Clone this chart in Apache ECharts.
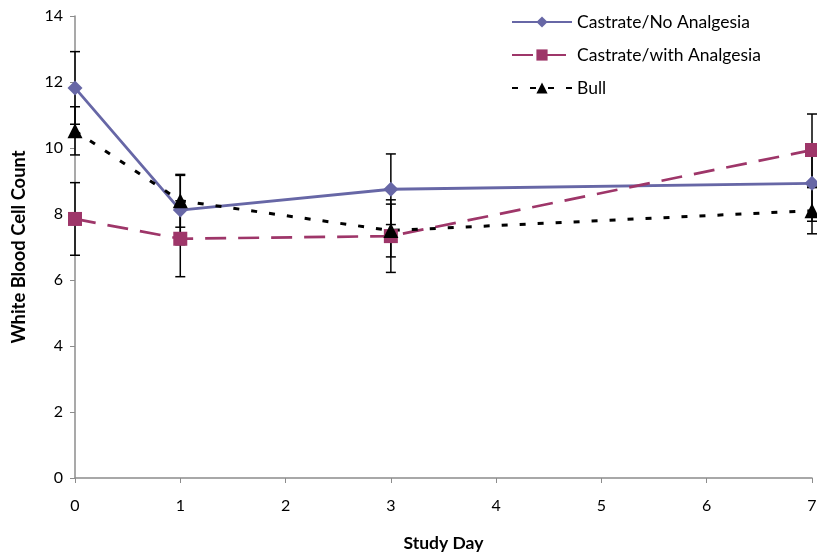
<!DOCTYPE html>
<html>
<head>
<meta charset="utf-8">
<script src="https://cdn.jsdelivr.net/npm/echarts@6/dist/echarts.min.js"></script>
<style>
  html, body { margin: 0; padding: 0; background: #fff; }
  #chart { width: 817px; height: 555px; }
</style>
</head>
<body>
<div id="chart"></div>
<script>
// Study days sampled
const days = [0, 1, 3, 7];

// Mean white blood cell counts per group
const noAnalgesia = [11.82, 8.12, 8.75, 8.93];
const withAnalgesia = [7.85, 7.25, 7.33, 9.94];
const bull = [10.52, 8.40, 7.50, 8.10];

// Error bar half-widths per group
const noAnalgesiaErr = [1.10, 1.05, 1.07, 1.15];
const withAnalgesiaErr = [1.10, 1.15, 1.10, 1.09];
const bullErr = [0.73, 0.80, 0.80, 0.70];

// Axis ticks
const xTicks = [0, 1, 2, 3, 4, 5, 6, 7];
const yTicks = [0, 2, 4, 6, 8, 10, 12, 14];

const FONT = 'Lato';
const C_NO = '#6767A6';
const C_WITH = '#9E3669';
const C_BULL = '#000000';

function points(vals) {
  return days.map((d, i) => [d, vals[i]]);
}
function errData(vals, errs) {
  return days.map((d, i) => [d, vals[i] - errs[i], vals[i] + errs[i]]);
}
function renderErr(params, api) {
  const x = api.value(0);
  const lo = api.coord([x, api.value(1)]);
  const hi = api.coord([x, api.value(2)]);
  const half = 5;
  const style = { stroke: '#000', lineWidth: 1.5 };
  return {
    type: 'group',
    children: [
      { type: 'line', shape: { x1: lo[0], y1: lo[1], x2: hi[0], y2: hi[1] }, style },
      { type: 'line', shape: { x1: lo[0] - half, y1: lo[1], x2: lo[0] + half, y2: lo[1] }, style },
      { type: 'line', shape: { x1: hi[0] - half, y1: hi[1], x2: hi[0] + half, y2: hi[1] }, style }
    ]
  };
}
function errSeries(vals, errs) {
  return {
    type: 'custom',
    renderItem: renderErr,
    data: errData(vals, errs),
    encode: { x: 0, y: [1, 2] },
    clip: false,
    silent: true,
    z: 1
  };
}

const chart = echarts.init(document.getElementById('chart'), null, { renderer: 'canvas' });
chart.setOption({
  animation: false,
  backgroundColor: '#ffffff',
  grid: { left: 75, right: 5, top: 16, bottom: 77, outerBoundsMode: 'none' },
  legend: {
    orient: 'vertical',
    left: 506,
    top: 8,
    itemWidth: 60,
    itemHeight: 14,
    itemGap: 15,
    data: ['Castrate/No Analgesia', 'Castrate/with Analgesia', 'Bull'],
    textStyle: { fontFamily: FONT, fontSize: 17.5, color: '#000' }
  },
  xAxis: {
    type: 'value',
    min: xTicks[0],
    max: xTicks[xTicks.length - 1],
    interval: 1,
    name: 'Study Day',
    nameLocation: 'middle',
    nameGap: 56,
    nameTextStyle: { fontFamily: FONT, fontSize: 17.5, fontWeight: 'bold', color: '#000' },
    axisLine: { lineStyle: { color: '#8C8C8C', width: 1.5 } },
    axisTick: { show: true, length: 5, lineStyle: { color: '#8C8C8C' } },
    axisLabel: { fontFamily: FONT, fontSize: 16, color: '#000', margin: 20 },
    splitLine: { show: false }
  },
  yAxis: {
    type: 'value',
    min: yTicks[0],
    max: yTicks[yTicks.length - 1],
    interval: 2,
    name: 'White Blood Cell Count',
    nameLocation: 'middle',
    nameGap: 47,
    nameTextStyle: { fontFamily: FONT, fontSize: 18.4, fontWeight: 'bold', color: '#000' },
    axisLine: { show: true, lineStyle: { color: '#8C8C8C', width: 1.5 } },
    axisTick: { show: true, length: 5, lineStyle: { color: '#8C8C8C' } },
    axisLabel: { fontFamily: FONT, fontSize: 16, color: '#000', margin: 12 },
    splitLine: { show: false }
  },
  series: [
    errSeries(noAnalgesia, noAnalgesiaErr),
    errSeries(withAnalgesia, withAnalgesiaErr),
    errSeries(bull, bullErr),
    {
      name: 'Castrate/No Analgesia',
      type: 'line',
      data: points(noAnalgesia),
      symbol: 'diamond',
      symbolSize: 15,
      showAllSymbol: true,
      lineStyle: { color: C_NO, width: 2.8 },
      itemStyle: { color: C_NO },
      z: 3
    },
    {
      name: 'Castrate/with Analgesia',
      type: 'line',
      data: points(withAnalgesia),
      symbol: 'rect',
      symbolSize: 14,
      lineStyle: { color: C_WITH, width: 2.7, type: [21, 12] },
      itemStyle: { color: C_WITH },
      z: 3
    },
    {
      name: 'Bull',
      type: 'line',
      data: points(bull),
      symbol: 'triangle',
      symbolSize: 15,
      lineStyle: { color: C_BULL, width: 3, type: [6, 12] },
      itemStyle: { color: C_BULL },
      z: 3
    }
  ]
});
</script>
</body>
</html>
